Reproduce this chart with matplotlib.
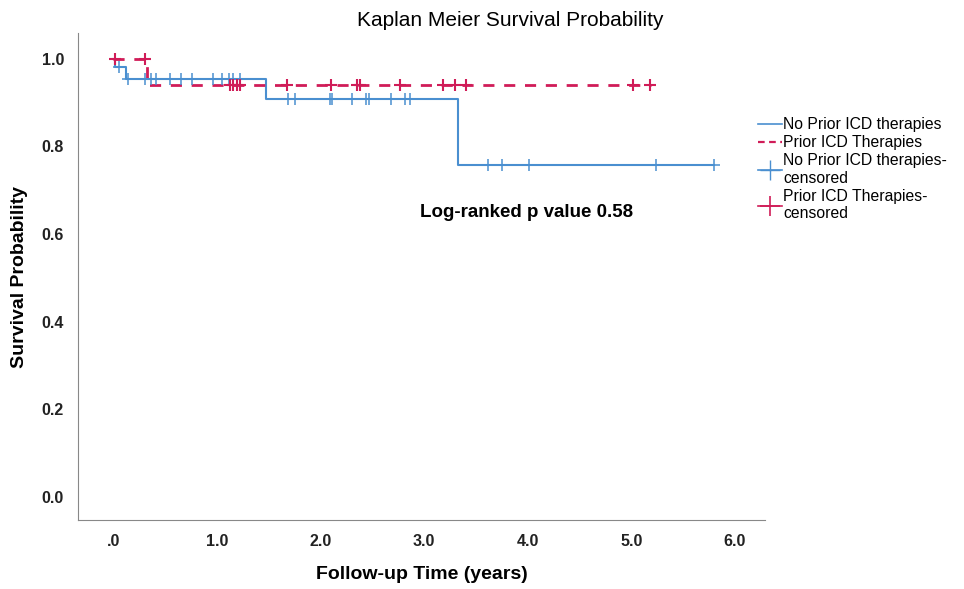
import matplotlib
matplotlib.use('Agg')
import matplotlib.pyplot as plt
from matplotlib.lines import Line2D

plt.rcParams['font.family'] = ['Liberation Sans', 'DejaVu Sans']

# Kaplan-Meier step data
no_prior_t = [0.0, 0.02, 0.125, 1.47, 3.33, 5.80]
no_prior_s = [1.0, 0.982, 0.955, 0.909, 0.758, 0.758]
prior_t = [0.0, 0.33, 5.19]
prior_s = [1.0, 0.941, 0.941]

# censored observations
no_prior_cens_t = [0.06, 0.14, 0.31, 0.36, 0.41, 0.55, 0.65, 0.76, 0.96, 1.05, 1.12, 1.16, 1.22,
                   1.69, 1.75, 2.09, 2.11, 2.30, 2.44, 2.47, 2.68, 2.82, 2.86,
                   3.62, 3.75, 4.01, 5.24, 5.80]
no_prior_cens_s = [0.982] + [0.955] * 12 + [0.909] * 10 + [0.758] * 5
prior_cens_t = [0.02, 0.31, 1.13, 1.16, 1.19, 1.22, 1.68, 2.10, 2.35, 2.38, 2.77, 3.18, 3.30, 3.40, 5.02, 5.18]
prior_cens_s = [1.0, 1.0] + [0.941] * 14

blue = '#4a8fd0'
red = '#d01c58'

fig = plt.figure(figsize=(9.64, 5.89), dpi=100)
ax = fig.add_axes([0.0809, 0.1171, 0.7127, 0.8269])

ax.step(no_prior_t, no_prior_s, where='post', color=blue, lw=1.5)
ax.step(prior_t, prior_s, where='post', color=red, lw=2, linestyle=(0, (4, 3.5)))
ax.plot(no_prior_cens_t, no_prior_cens_s, '+', color=blue, ms=9, mew=1.1)
ax.plot(prior_cens_t, prior_cens_s, '+', color=red, ms=9, mew=1.5)

ax.set_xlim(-0.34, 6.29)
ax.set_ylim(-0.053, 1.059)
ax.set_xticks([0, 1, 2, 3, 4, 5, 6])
ax.set_xticklabels(['.0', '1.0', '2.0', '3.0', '4.0', '5.0', '6.0'])
ax.set_yticks([0, 0.2, 0.4, 0.6, 0.8, 1.0])
ax.set_yticklabels(['0.0', '0.2', '0.4', '0.6', '0.8', '1.0'])
ax.tick_params(length=0, labelsize=11.5, colors='#222222', pad=10)
for lab in ax.get_xticklabels() + ax.get_yticklabels():
    lab.set_fontweight('bold')
for s in ['top', 'right']:
    ax.spines[s].set_visible(False)
for s in ['left', 'bottom']:
    ax.spines[s].set_color('#888888')

ax.set_xlabel('Follow-up Time (years)', fontsize=14, fontweight='bold', labelpad=12)
ax.set_ylabel('Survival Probability', fontsize=14, fontweight='bold', labelpad=10)
fig.text(0.529, 0.966, 'Kaplan Meier Survival Probability', fontsize=15, ha='center', va='center')
ax.text(3.99, 0.648, 'Log-ranked p value 0.58', fontsize=13.5, fontweight='bold', ha='center', va='center')

handles = [
    Line2D([], [], color=blue, lw=1.2),
    Line2D([], [], color=red, lw=1.6, linestyle=(0, (3, 2))),
    Line2D([], [], color=blue, lw=1.2, marker='+', ms=14, mew=1.0),
    Line2D([], [], color=red, lw=1.2, marker='+', ms=14, mew=1.2),
]
labels = ['No Prior ICD therapies', 'Prior ICD Therapies',
          'No Prior ICD therapies-\ncensored', 'Prior ICD Therapies-\ncensored']
fig.legend(handles, labels, loc='upper left', bbox_to_anchor=(0.772, 0.825), frameon=False,
           fontsize=11.3, handlelength=1.5, handletextpad=0.1, labelspacing=0.2)

fig.savefig('out.png', dpi=100)
